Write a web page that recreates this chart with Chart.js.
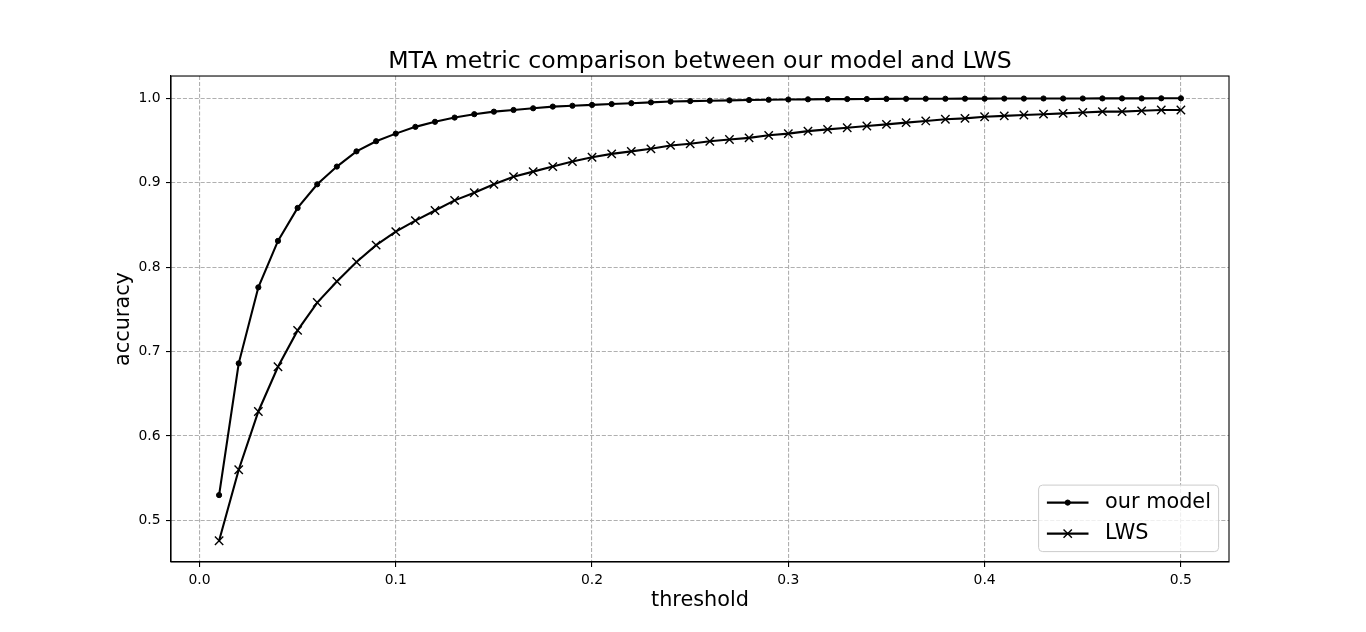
<!DOCTYPE html>
<html>
<head>
<meta charset="utf-8">
<script src="https://cdn.jsdelivr.net/npm/chart.js@4.4.1/dist/chart.umd.min.js"></script>
<style>
  html, body { margin: 0; padding: 0; background: #fff; }
  canvas { display: block; }
</style>
</head>
<body>
<canvas id="c" width="1366" height="632"></canvas>
<script>
Chart.defaults.font.family = "'DejaVu Sans', sans-serif";
Chart.defaults.color = '#000';

// ---- data ----
const thresholds = [0.01, 0.02, 0.03, 0.04, 0.05, 0.06, 0.07, 0.08, 0.09, 0.10,
  0.11, 0.12, 0.13, 0.14, 0.15, 0.16, 0.17, 0.18, 0.19, 0.20,
  0.21, 0.22, 0.23, 0.24, 0.25, 0.26, 0.27, 0.28, 0.29, 0.30,
  0.31, 0.32, 0.33, 0.34, 0.35, 0.36, 0.37, 0.38, 0.39, 0.40,
  0.41, 0.42, 0.43, 0.44, 0.45, 0.46, 0.47, 0.48, 0.49, 0.50];
const ourModel = [0.530, 0.686, 0.776, 0.831, 0.870, 0.898, 0.919, 0.937, 0.949, 0.958,
  0.966, 0.972, 0.977, 0.981, 0.984, 0.986, 0.988, 0.990, 0.991, 0.992,
  0.993, 0.994, 0.995, 0.996, 0.9965, 0.9970, 0.9974, 0.9978, 0.9981, 0.9984,
  0.9986, 0.9988, 0.9989, 0.9990, 0.9991, 0.9992, 0.9993, 0.9993, 0.9994, 0.9994,
  0.9995, 0.9995, 0.9996, 0.9996, 0.9996, 0.9997, 0.9997, 0.9997, 0.9998, 0.9998];
const lws = [0.476, 0.560, 0.629, 0.682, 0.725, 0.758, 0.783, 0.806, 0.826, 0.842,
  0.855, 0.867, 0.879, 0.888, 0.898, 0.907, 0.913, 0.919, 0.925, 0.930,
  0.934, 0.937, 0.940, 0.944, 0.946, 0.949, 0.951, 0.953, 0.956, 0.958,
  0.961, 0.963, 0.965, 0.967, 0.969, 0.971, 0.973, 0.975, 0.976, 0.978,
  0.979, 0.980, 0.981, 0.982, 0.983, 0.984, 0.984, 0.985, 0.986, 0.986];
const xTicks = [0.0, 0.1, 0.2, 0.3, 0.4, 0.5];
const yTicks = [0.5, 0.6, 0.7, 0.8, 0.9, 1.0];

const toPts = ys => thresholds.map((t, i) => ({ x: t, y: ys[i] }));

// box around the axes (top + right spines)
const frame = {
  id: 'frame',
  afterDatasetsDraw(chart) {
    const { ctx, chartArea: a } = chart;
    ctx.save();
    ctx.strokeStyle = '#000';
    ctx.lineWidth = 1.1;
    ctx.strokeRect(a.left, a.top, a.right - a.left, a.bottom - a.top);
    ctx.restore();
  }
};

// matplotlib-like legend, lower right inside the axes
const mplLegend = {
  id: 'mplLegend',
  afterDraw(chart) {
    const { ctx, chartArea: a } = chart;
    const fs = 20.8;
    const w = 180, h = 66.5;
    const right = a.right - 10.4, bottom = a.bottom - 10.4;
    const left = right - w, top = bottom - h;
    ctx.save();
    ctx.beginPath();
    ctx.roundRect(left, top, w, h, 4);
    ctx.fillStyle = 'rgba(255,255,255,0.8)';
    ctx.fill();
    ctx.strokeStyle = '#cccccc';
    ctx.lineWidth = 1;
    ctx.stroke();
    chart.data.datasets.forEach((ds, i) => {
      const y = top + 17.5 + i * 31;
      const x0 = left + 8.3, x1 = x0 + 41.6;
      ctx.beginPath();
      ctx.moveTo(x0, y);
      ctx.lineTo(x1, y);
      ctx.strokeStyle = ds.borderColor;
      ctx.lineWidth = ds.borderWidth;
      ctx.stroke();
      ctx.fillStyle = '#000';
      ctx.strokeStyle = '#000';
      ctx.lineWidth = ds.pointBorderWidth;
      Chart.helpers.drawPoint(ctx, {
        pointStyle: ds.pointStyle, radius: ds.pointRadius, rotation: 0, borderWidth: ds.pointBorderWidth
      }, (x0 + x1) / 2, y);
      ctx.fillStyle = '#000';
      ctx.font = fs + "px 'DejaVu Sans'";
      ctx.textBaseline = 'middle';
      ctx.textAlign = 'left';
      ctx.fillText(ds.label, x1 + 16.6, y);
    });
    ctx.restore();
  }
};

const gridStyle = {
  color: '#b0b0b0',
  lineWidth: 1.1,
  tickColor: '#000',
  tickLength: 5,
  tickWidth: 1.1,
  tickBorderDash: []
};
const borderStyle = { display: true, color: '#000', width: 1.1, dash: [4.1, 1.8] };

new Chart(document.getElementById('c'), {
  type: 'line',
  data: {
    datasets: [
      {
        label: 'our model',
        data: toPts(ourModel),
        borderColor: '#000',
        backgroundColor: '#000',
        borderWidth: 2.1,
        pointStyle: 'circle',
        pointRadius: 2.6,
        pointBorderWidth: 1,
        pointBackgroundColor: '#000',
        pointBorderColor: '#000',
        tension: 0
      },
      {
        label: 'LWS',
        data: toPts(lws),
        borderColor: '#000',
        backgroundColor: '#000',
        borderWidth: 2.1,
        pointStyle: 'crossRot',
        pointRadius: 5.9,
        pointBorderWidth: 1.4,
        pointBackgroundColor: '#000',
        pointBorderColor: '#000',
        tension: 0
      }
    ]
  },
  options: {
    responsive: false,
    animation: false,
    events: [],
    layout: { padding: { left: 0, right: 137, top: 0, bottom: 0 } },
    plugins: {
      legend: { display: false },
      tooltip: { enabled: false },
      title: {
        display: true,
        fullSize: false,
        text: 'MTA metric comparison between our model and LWS',
        color: '#000',
        font: { size: 23.6, weight: 'normal' },
        padding: { top: 47.6, bottom: 0.1 }
      }
    },
    scales: {
      x: {
        type: 'linear',
        min: -0.0145,
        max: 0.5245,
        afterBuildTicks: s => { s.ticks = xTicks.map(v => ({ value: v })); },
        afterFit: s => { s.height = 70; },
        ticks: { font: { size: 13.9 }, padding: 5, maxRotation: 0, callback: v => v.toFixed(1) },
        grid: gridStyle,
        border: borderStyle,
        title: { display: true, text: 'threshold', font: { size: 20.8 }, padding: { top: 0, bottom: 18.5 } }
      },
      y: {
        type: 'linear',
        min: 0.4508,
        max: 1.0262,
        afterBuildTicks: s => { s.ticks = yTicks.map(v => ({ value: v })); },
        afterFit: s => { s.width = 171; },
        ticks: { font: { size: 13.9 }, padding: 5.5, callback: v => v.toFixed(1) },
        grid: gridStyle,
        border: borderStyle,
        title: { display: true, text: 'accuracy', font: { size: 20.8 }, padding: { top: 111.5, bottom: 0 } }
      }
    }
  },
  plugins: [frame, mplLegend]
});
</script>
</body>
</html>
